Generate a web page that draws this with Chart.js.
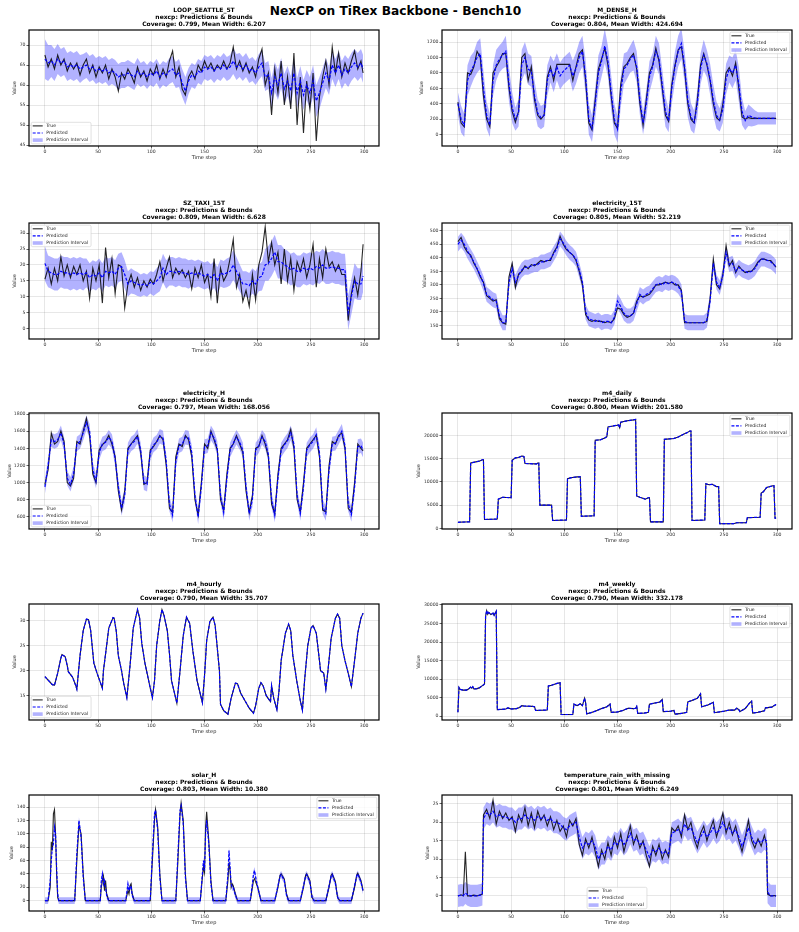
<!DOCTYPE html>
<html>
<head>
<meta charset="utf-8">
<script src="https://cdn.jsdelivr.net/npm/chart.js@4.4.1/dist/chart.umd.min.js"></script>
<style>
  body { margin: 0; background: #fff; width: 799px; height: 932px; position: relative; overflow: hidden; font-family: "DejaVu Sans", sans-serif; }
  .sup { position: absolute; left: 0; width: 791px; top: 4px; line-height: 15px; text-align: center; font-weight: bold; font-size: 12.2px; color: #000; }
  canvas { position: absolute; }
</style>
</head>
<body>
<div class="sup">NexCP on TiRex Backbone - Bench10</div>
<script>
// ---- time steps -------------------------------------------------------
const GRID3 = [0,3,6,9,12,15,18,21,24,27,30,33,36,39,42,45,48,51,54,57,
  60,63,66,69,72,75,78,81,84,87,90,93,96,99,102,105,108,111,114,117,
  120,123,126,129,132,135,138,141,144,147,150,153,156,159,162,165,168,171,174,177,
  180,183,186,189,192,195,198,201,204,207,210,213,216,219,222,225,228,231,234,237,
  240,243,246,249,252,255,258,261,264,267,270,273,276,279,282,285,288,291,294,297,299];
const xTicks = [0, 50, 100, 150, 200, 250, 300];

// ---- LOOP_SEATTLE_5T ----------------------------------------------------
const loopTrue = [
  67.5,64.5,66.5,64,67.5,65,66.5,63.5,65.5,64,
  65.5,62.5,65,66.5,63,65,62,64.5,63,65,
  61.5,64,62,58.5,63,61.5,64,62.5,60.5,64.5,
  62,63.5,61,64,62.5,65,61.5,64,62,66,
  68.5,62,64.5,59,57.5,62,63.5,61.5,65,63.5,
  66,64,65.5,63.5,65,64,66,64,65.5,69.5,
  64,66,63.5,65.5,63,64.5,62,66.5,69,60,
  63,52.5,64,58,66,55,62,54,68,50,
  62,48,61,54,63,46,57,62,66,60,
  69.5,63,68,62,65.5,63,66,68.5,64,66,
  63];
const loopPred = [
  66.5,65.5,66,65,66.5,65.5,66,64.5,65,64.5,
  65,64,64.5,65,64,64.5,63.5,64,63.5,64,
  63,63.5,63,62,62.5,62.5,63,62.5,62,63.5,
  62.5,63,62,63,62.5,63.5,62,63,62.5,63.5,
  64,62.5,63,60.5,58.5,61,62.5,62,63.5,63,
  64.5,64,64.5,63.5,64.5,64,65,64,64.5,66,
  64.5,65,64,65,63.5,64,63,64.5,65.5,62,
  62.5,58,62,60,63,59,61,58.5,63,58,
  61,57.5,60,58,61,56,58,60.5,63,61,
  65,63,65,62.5,64,63,64.5,65.5,64.5,65.5,
  64];
const loopWidth = [
  10,9,8,8,7.5,7,7,7,7,7,
  7,7,6.5,6.5,6.5,6.5,6.5,6.5,6.5,6.5,
  6.5,6.5,6.5,6.5,6.5,6.5,6.5,6.5,6.5,6.5,
  6,6,6,6,6,6,6,6,6,6.5,
  6.5,6.5,7,7,7,6.5,6,6,6,6,
  6,6,6,6,6,6,6,6,6,6.5,
  6.5,6,6,6,6,6,6,6.5,6.5,7,
  7,7.5,7.5,7.5,7.5,7.5,7.5,7.5,7.5,7.5,
  7.5,7.5,7.5,8,8,8,8,7.5,7.5,7,
  7,7,7,7,7,7,7,7,7,7,
  7];
const loopTicks = [45, 50, 55, 60, 65, 70];

// ---- M_DENSE_H ----------------------------------------------------------
const denseTrue = [
  420,150,100,800,780,880,1080,1000,500,200,
  100,800,880,950,1050,1050,600,300,160,300,
  1000,1050,700,880,450,250,200,250,750,880,
  700,910,910,910,910,910,700,880,1050,1100,
  700,150,60,450,850,980,1120,900,500,150,
  80,650,880,920,1000,1050,850,400,120,450,
  800,900,1120,950,600,250,170,650,900,1100,
  1140,850,400,200,150,450,900,1050,900,700,
  400,220,180,400,800,870,760,930,600,230,
  200,220,210,210,210,210,210,210,210,210,
  210];
const densePred = [
  400,200,120,700,820,900,1000,1050,600,250,
  120,700,900,980,1030,1080,650,350,200,280,
  900,1000,850,820,500,280,220,250,700,850,
  750,880,760,820,860,900,760,860,1000,1080,
  750,200,80,400,800,950,1150,950,550,200,
  70,550,850,900,980,1030,880,450,150,400,
  750,880,1080,980,650,300,180,600,880,1080,
  1180,880,450,230,160,400,850,1030,920,720,
  450,250,190,330,720,850,800,900,650,300,
  180,250,230,215,210,210,210,210,210,210,
  210];
const denseWidth = [
  300,350,300,400,400,350,400,400,450,350,
  300,400,400,350,350,400,450,400,300,350,
  400,400,400,400,400,350,300,300,400,350,
  400,350,350,350,350,350,400,400,400,400,
  450,400,350,400,450,400,450,400,450,400,
  350,400,400,350,350,400,400,400,300,350,
  400,350,400,400,400,400,300,400,400,400,
  400,400,450,350,300,350,400,400,350,400,
  400,350,300,350,400,350,400,400,450,350,
  250,280,250,200,160,160,160,160,160,160,
  160];
const denseTicks = [0, 200, 400, 600, 800, 1000, 1200];

// ---- SZ_TAXI_15T --------------------------------------------------------
const taxiTrue = [
  15.5,19,14,19,15,22.5,16.5,20,16,19.5,
  17,20,15,18,9.5,19,15,20,8,25.5,
  16,22,11,20,19.5,6.5,14,17,13,16,
  12,15,13,15.5,14,17,21,15,19,22.5,
  16,19,17,18.5,16,18,12.5,19,16,20,
  14.5,17,10,22,8,19,15,17,22,28,
  13,17,8.5,12,7,17,9,20,24,32,
  21,27,20,24,14,25,15,22,12,21,
  18,22,16,20,26.5,13,22,16,25,19.5,
  21,18,20,17,17,2.5,11,16,10.5,18,
  26.5];
const taxiPred = [
  20.5,18,17.5,17,17,18,17.5,17.5,17,17.5,
  17,17.5,17,17.5,16,17,16.5,17.5,16,18,
  17.5,18,17,19,19.5,17,14,15,14.5,14,
  13.5,14,13.5,14.5,14,15,16,19,17,18,
  18,17.5,18,17.5,17.5,17,17.5,17,17.5,17,
  16.5,17,16,17,15,17.5,17,17.5,18,20,
  18,16,14,14,13.5,15,14,16,16.5,20,
  20.5,22,24,21,21,20,19.5,18.5,19,18,
  18,19,18.5,19,18.5,19.5,19,20,19,19,
  19.5,19,19,18.5,18.5,5,10,15,14,14,
  16.5];
const taxiWidth = [
  11,10,10,10,10,10,10,10,10,10,
  10,10,10,9,9,9,9,9,9,9,
  9,9,9,9,9,9,8,8,7.5,7.5,
  7,7,7,7,7.5,8,8.5,9,9,9,
  9,9,9,9,9,9,8.5,8.5,8.5,8.5,
  8.5,8.5,8.5,8.5,8.5,8.5,8.5,9,9,9.5,
  9,8.5,8,8,8,8,8,8.5,9,10,
  11,11,11,10.5,10.5,10,10,10,10,10,
  10,10,10,10,10,10,10,10,10,10,
  10,10,10,10,10,11,11,11,10,10,
  10];
const taxiTicks = [0, 5, 10, 15, 20, 25, 30];

// ---- electricity_15T ----------------------------------------------------
const e15True = [
  460,475,440,420,410,380,360,330,310,260,
  250,240,245,175,160,155,330,380,290,340,
  350,370,360,375,370,380,390,385,390,390,
  420,440,480,450,430,420,410,390,350,300,
  190,170,165,170,165,165,160,165,160,175,
  215,210,190,180,185,195,240,260,255,260,
  265,280,300,300,305,310,305,310,300,300,
  280,160,160,160,160,160,160,160,165,250,
  395,300,285,340,445,370,390,345,370,355,
  345,350,350,365,385,395,395,390,390,375,
  365];
const e15Pred = [
  450,465,450,425,405,385,360,335,305,265,
  255,245,240,185,160,160,310,360,310,335,
  355,365,365,370,375,375,385,385,390,395,
  415,435,470,455,435,420,410,395,355,310,
  200,175,170,165,170,160,165,165,160,180,
  240,220,195,185,185,195,230,265,255,265,
  270,285,300,305,300,310,305,310,305,295,
  275,165,160,160,160,160,160,160,170,240,
  380,310,290,335,420,375,380,350,365,355,
  350,345,350,360,380,395,395,390,385,375,
  365];
const e15Width = 55;
const e15Ticks = [150, 200, 250, 300, 350, 400, 450, 500];

// ---- electricity_H ------------------------------------------------------
const ehTrue = [
  980,1150,1580,1450,1480,1600,1480,1000,960,1050,
  1480,1450,1600,1750,1550,1100,1000,1380,1440,1480,
  1550,1450,1300,900,680,900,1400,1450,1500,1550,
  1350,980,1000,1380,1420,1480,1550,1500,1200,700,
  650,1300,1450,1420,1550,1500,1300,800,620,1000,
  1450,1400,1600,1500,1380,800,680,1100,1400,1450,
  1550,1450,1350,900,650,850,1400,1420,1550,1450,
  1300,750,640,1100,1400,1450,1500,1620,1400,800,
  660,1000,1400,1450,1500,1550,1300,680,660,1200,
  1480,1450,1550,1580,1400,700,650,1000,1450,1400,
  1370];
const ehPred = [
  950,1200,1500,1480,1500,1580,1450,1050,980,1100,
  1450,1480,1580,1700,1600,1150,1020,1350,1450,1470,
  1530,1480,1280,950,700,850,1380,1450,1480,1540,
  1380,1000,980,1350,1440,1470,1540,1520,1250,750,
  620,1250,1430,1450,1530,1520,1350,850,600,950,
  1420,1430,1580,1520,1400,850,650,1050,1380,1460,
  1530,1470,1380,950,640,800,1380,1430,1530,1480,
  1330,800,620,1050,1380,1440,1490,1580,1450,850,
  640,950,1380,1440,1480,1560,1350,720,640,1150,
  1450,1460,1530,1600,1430,750,630,950,1420,1430,
  1380];
const ehWidth = 170;
const ehTicks = [600, 800, 1000, 1200, 1400, 1600, 1800];

// ---- m4_daily -----------------------------------------------------------
const dailySteps = [
  0,11,12,20,23,24,25,37,38,42,
  50,51,54,57,60,62,63,74,75,76,
  77,88,89,102,103,106,112,115,116,128,
  129,134,138,140,141,146,151,152,153,159,
  165,167,168,171,176,179,180,181,193,194,
  203,207,212,215,218,219,220,232,233,236,
  239,243,245,246,259,262,271,272,284,285,
  287,290,296,297,298,299];
const dailyTrue = [
  1300,1400,14100,14500,14800,14800,1900,2000,6300,6700,
  6600,14700,15200,15300,15600,15500,14000,13900,14100,14100,
  5000,5000,1700,1800,10700,10900,11100,11100,2600,2700,
  19000,19100,19500,19800,21900,22100,22300,21700,22900,23200,
  23400,23500,7000,6700,6300,6600,6600,1400,1400,19200,
  19400,19700,20300,20600,21000,21000,1700,1800,9600,9400,
  9500,9000,9000,1000,1000,1200,1200,2300,2400,7600,
  7900,8800,9200,9200,2200,2200];
const dailyPred = dailyTrue; // the dashed forecast sits on the true line here
const dailyWidth = 201.58;
const dailyTicks = [0, 5000, 10000, 15000, 20000];

// ---- m4_hourly ----------------------------------------------------------
const hourlySteps = [
  0,7,9,12,15,16,19,21,22,26,
  29,30,33,36,39,41,43,46,49,54,
  55,58,60,64,65,67,69,72,74,77,
  80,83,87,89,91,94,99,101,103,105,
  108,110,112,115,117,119,124,127,130,133,
  136,139,143,148,150,152,155,158,160,164,
  165,168,172,175,179,181,184,188,192,196,
  198,201,203,205,208,212,213,215,218,220,
  222,226,229,231,233,237,240,242,244,247,
  250,252,255,258,259,262,264,266,269,273,
  275,277,279,282,285,288,291,294,297,299];
const hourlyTrue = [
  18.8,17.2,17.1,19.5,22.5,23.2,22.8,21,19.8,18.7,
  17,16.3,23,28,30.3,30.2,28,21.5,19.5,16.5,
  20,25,28.5,30.6,30.5,28,23,20,17.5,14.6,
  21,28.5,32.2,30.5,25.5,21.5,16.5,14.6,18,25,
  30,32.2,31,28,23.5,18,13.5,20,27,30.7,
  29.5,24,18,13.6,19,26,29.8,30.7,29,20,
  13.3,12,11.3,14.5,17.5,17.4,15.5,14,12.5,11.5,
  13,16.5,17.6,17,15,13.8,17,14.5,12.2,16,
  22,27.5,29.3,28,23,17.5,14,12.1,18,25,
  28.5,29,27.5,22,20,19.5,16.3,20,26.5,30.5,
  31.3,30.5,25,22,19.5,16.8,22,27.5,30.5,31.5];
const hourlyPred = hourlyTrue;
const hourlyWidth = 0.3;
const hourlyTicks = [15, 20, 25, 30];

// ---- m4_weekly ----------------------------------------------------------
const weeklySteps = [
  0,1,2,5,8,10,12,13,14,15,
  18,20,22,24,25,26,27,28,29,31,
  33,34,36,37,45,47,50,55,58,60,
  62,70,72,73,84,85,88,90,93,96,
  97,108,109,112,115,117,119,120,121,125,
  130,135,140,143,144,150,155,160,165,167,
  168,169,175,179,180,185,190,192,193,200,
  203,204,210,215,216,220,225,228,229,235,
  240,241,250,255,260,262,264,265,270,274,
  276,277,282,288,289,295,297,299];
const weeklyTrue = [
  1000,7700,7200,7000,7000,7300,7800,7500,7900,7300,
  7400,7600,8000,8400,8700,26900,28500,27500,28000,27400,
  27800,27200,28300,1700,1900,2200,1900,2000,2300,2800,
  2700,2600,2500,1500,1600,8100,8300,8500,8800,9000,
  400,400,3200,2800,3300,2800,4800,3600,600,900,
  1400,2000,2500,3200,1000,1100,1500,2100,2000,2100,
  2600,700,800,1000,3200,3500,3800,4500,1200,1300,
  1500,500,700,1000,3800,4200,4800,6000,2500,3000,
  3700,900,1300,1600,1600,2100,1700,1200,2000,3500,
  4000,800,1000,1400,2200,2400,2800,3100];
const weeklyPred = weeklyTrue;
const weeklyWidth = 332.178;
const weeklyTicks = [0, 5000, 10000, 15000, 20000, 25000, 30000];

// ---- solar_H ------------------------------------------------------------
const solarSteps = [
  0,3,5,6,7,8,9,10,11,12,13,
  28,30,32,34,36,38,
  52,53,54,55,56,57,58,60,
  76,78,79,80,81,82,84,
  99,101,103,104,106,108,110,
  123,125,127,128,130,132,134,
  146,148,149,150,151,152,154,156,158,
  170,172,173,174,175,176,177,179,181,
  193,195,196,197,198,200,203,
  216,219,221,222,225,227,229,
  240,243,245,246,249,251,253,
  264,267,269,270,273,275,277,
  288,291,293,294,297,299];
const solarTrue = [
  0,0,20,88,75,130,136,100,40,5,0,
  0,60,113,100,40,0,
  0,20,30,37,15,30,10,0,
  0,15,10,22,25,10,0,
  0,60,120,136,110,40,0,
  0,60,130,146,120,40,0,
  0,35,50,42,110,133,90,30,0,
  0,30,57,45,20,25,22,10,0,
  0,20,30,33,28,20,0,
  0,20,38,40,32,10,0,
  0,20,38,40,30,5,0,
  0,20,38,40,28,5,0,
  0,20,38,41,30,15];
const solarPred = [
  0,0,30,60,80,85,110,100,50,10,0,
  0,70,120,95,35,0,
  0,30,40,25,30,20,8,0,
  0,25,15,20,22,8,0,
  0,70,130,135,105,35,0,
  0,70,135,142,115,35,0,
  0,40,60,45,100,120,85,25,0,
  0,40,75,50,25,20,20,8,0,
  0,25,40,45,35,20,0,
  0,22,37,39,30,8,0,
  0,22,37,39,28,5,0,
  0,22,37,39,26,5,0,
  0,22,37,40,28,14];
const solarWidth = 10.4;
const solarTicks = [0, 20, 40, 60, 80, 100, 120, 140];

// ---- temperature_rain_with_missing --------------------------------------
const tempSteps = [
  0,3,5,7,9,12,15,18,21,23,
  24,27,30,33,36,39,42,45,48,51,
  54,57,60,63,66,69,72,75,78,81,
  84,87,90,93,96,99,102,105,108,111,
  114,117,120,123,126,129,132,135,138,141,
  144,147,150,153,156,159,162,165,168,171,
  174,177,180,183,186,189,192,195,198,201,
  204,207,210,213,216,219,222,225,228,231,
  234,237,240,243,246,249,252,255,258,261,
  264,267,270,273,276,279,282,285,288,290,
  291,294,297,299];
const tempTrue = [
  0,0.3,0,12,0,0,0.2,0,0.3,0.5,
  22,23.5,21,26,19.5,23,21,22.5,20.5,21.5,
  17.5,22,20,24,19,22.5,18.5,23,20.5,22,
  19,21.5,18,20.5,17.5,19,16,20.5,19,21,
  14,11,15.5,13,16,12,8,12.5,10,14.5,
  11,16,13,17,12,15.5,19,14,16.5,13,
  15,11,8,13.5,11,14,10,12.5,10.5,18.5,
  17.5,19,16,22,18,20,15.5,13,17,19,
  15,18,20.5,16,19,22.5,17,20,16.5,19,
  15,12,16,20.5,15,13,15.5,13.5,16.5,14,
  0.5,0,0.1,0];
const tempPred = [
  0,0.2,0.1,0.8,0.3,0,0,0,0.2,0.4,
  21,22.5,22,23,21.5,22,21.5,21.5,21,21,
  20,21,21,22,21,21.5,20.5,21.5,21,21.5,
  20.5,21,20,20,19.5,18.5,18,19,19.5,20,
  16,13,14.5,14,15,13.5,10,11.5,11.5,13.5,
  12.5,14.5,14,15.5,14,15,17,15,15.5,14,
  14.5,12.5,10.5,12.5,12,13,11.5,12,11.5,17,
  17.5,18,17,19.5,18,18.5,16.5,14.5,16,17.5,
  16,17,18.5,17,18,20,18,18.5,17,18,
  16,13.5,15.5,18.5,16,14,15,14.5,15.5,15,
  1,0,0,0];
const tempWidth = 6;
const tempTicks = [0, 5, 10, 15, 20, 25];

// ---- panels (row-major, two columns) ------------------------------------
const panels = [
  { name: 'LOOP_SEATTLE_5T', cov: '0.799', mw: '6.207', xs: GRID3, tru: loopTrue, pred: loopPred, w: loopWidth, yMin: 44.75, yMax: 73.75, yTicks: loopTicks, legend: 'll', valueX: 15 },
  { name: 'M_DENSE_H', cov: '0.804', mw: '424.694', xs: GRID3, tru: denseTrue, pred: densePred, w: denseWidth, yMin: -148, yMax: 1356, yTicks: denseTicks, legend: 'ur', valueX: 421.7 },
  { name: 'SZ_TAXI_15T', cov: '0.809', mw: '6.628', xs: GRID3, tru: taxiTrue, pred: taxiPred, w: taxiWidth, yMin: -3.3, yMax: 33.2, yTicks: taxiTicks, legend: 'ul', valueX: 15 },
  { name: 'electricity_15T', cov: '0.805', mw: '52.219', xs: GRID3, tru: e15True, pred: e15Pred, w: e15Width, yMin: 100, yMax: 528.6, yTicks: e15Ticks, legend: 'ur', valueX: 424.3 },
  { name: 'electricity_H', cov: '0.797', mw: '168.056', xs: GRID3, tru: ehTrue, pred: ehPred, w: ehWidth, yMin: 459, yMax: 1812, yTicks: ehTicks, legend: 'll', valueX: 10 },
  { name: 'm4_daily', cov: '0.800', mw: '201.580', xs: dailySteps, tru: dailyTrue, pred: dailyPred, w: dailyWidth, yMin: -145, yMax: 24890, yTicks: dailyTicks, legend: 'ur', valueX: 419 },
  { name: 'm4_hourly', cov: '0.790', mw: '35.707', xs: hourlySteps, tru: hourlyTrue, pred: hourlyPred, w: hourlyWidth, yMin: 10.13, yMax: 33.33, yTicks: hourlyTicks, legend: 'll', valueX: 15 },
  { name: 'm4_weekly', cov: '0.790', mw: '332.178', xs: weeklySteps, tru: weeklyTrue, pred: weeklyPred, w: weeklyWidth, yMin: -1080, yMax: 30270, yTicks: weeklyTicks, legend: 'ur', valueX: 419 },
  { name: 'solar_H', cov: '0.803', mw: '10.380', xs: solarSteps, tru: solarTrue, pred: solarPred, w: solarWidth, yMin: -15.5, yMax: 158, yTicks: solarTicks, legend: 'ur', valueX: 11.7 },
  { name: 'temperature_rain_with_missing', cov: '0.801', mw: '6.249', xs: tempSteps, tru: tempTrue, pred: tempPred, w: tempWidth, yMin: -4.1, yMax: 27.4, yTicks: tempTicks, legend: 'lc', valueX: 427.7 }
];

// ---- layout -------------------------------------------------------------
const PLOT_W = 350, PLOT_H = 116, PAD_TOP = 24, PAD_RIGHT = 6, X_AXIS_H = 15;
const COL_LEFT = [29, 442];
const ROW_TOP = [30, 223, 413, 604, 795];
const BAND = 'rgba(0,0,255,0.3)';
const FONT = '"DejaVu Sans", sans-serif';

Chart.defaults.font.family = FONT;

// black box round the axes
const framePlugin = {
  id: 'frame',
  afterDatasetsDraw(chart) {
    const { ctx, chartArea: a } = chart;
    ctx.save();
    ctx.strokeStyle = '#000';
    ctx.lineWidth = 1.2;
    ctx.strokeRect(a.left, a.top, a.right - a.left, a.bottom - a.top);
    ctx.restore();
  }
};

// three bold title lines above each axes
const titlePlugin = {
  id: 'panelTitle',
  afterDraw(chart, args, opts) {
    const { ctx, chartArea: a } = chart;
    ctx.save();
    ctx.font = 'bold 6px ' + FONT;
    ctx.fillStyle = '#000';
    ctx.textAlign = 'center';
    ctx.textBaseline = 'middle';
    const cx = (a.left + a.right) / 2;
    const n = opts.lines.length;
    opts.lines.forEach((t, i) => ctx.fillText(t, cx, a.top - 5.5 - 6.8 * (n - 1 - i)));
    ctx.restore();
  }
};

// matplotlib-like legend box inside the axes
const boxLegend = {
  id: 'boxLegend',
  afterDraw(chart, args, opts) {
    const { ctx, chartArea: a } = chart;
    const labels = ['True', 'Predicted', 'Prediction Interval'];
    ctx.save();
    ctx.font = '4.6px ' + FONT;
    const tw = Math.max(...labels.map(t => ctx.measureText(t).width));
    const bw = 15 + tw + 3, bh = 21.5, m = 2.2;
    let x, y;
    if (opts.pos === 'ur') { x = a.right - m - bw; y = a.top + m; }
    else if (opts.pos === 'ul') { x = a.left + m; y = a.top + m; }
    else if (opts.pos === 'll') { x = a.left + m; y = a.bottom - m - bh; }
    else { x = (a.left + a.right) / 2 - bw / 2; y = a.bottom - m - bh; }

    ctx.fillStyle = 'rgba(255,255,255,0.8)';
    ctx.strokeStyle = '#cccccc';
    ctx.lineWidth = 0.6;
    ctx.beginPath();
    ctx.roundRect(x, y, bw, bh, 1.5);
    ctx.fill();
    ctx.stroke();

    const rowY = i => y + 3.6 + i * 7.1;
    // True
    ctx.strokeStyle = 'rgba(0,0,0,0.85)';
    ctx.lineWidth = 1.1;
    ctx.beginPath(); ctx.moveTo(x + 1.5, rowY(0)); ctx.lineTo(x + 11.5, rowY(0)); ctx.stroke();
    // Predicted
    ctx.strokeStyle = '#0000ff';
    ctx.setLineDash([3, 1.5]);
    ctx.beginPath(); ctx.moveTo(x + 1.5, rowY(1)); ctx.lineTo(x + 11.5, rowY(1)); ctx.stroke();
    ctx.setLineDash([]);
    // Interval
    ctx.fillStyle = BAND;
    ctx.fillRect(x + 1.5, rowY(2) - 1.8, 10, 3.6);

    ctx.fillStyle = '#222';
    ctx.textAlign = 'left';
    ctx.textBaseline = 'middle';
    labels.forEach((t, i) => ctx.fillText(t, x + 15, rowY(i)));
    ctx.restore();
  }
};

function bandW(w, i) { return Array.isArray(w) ? w[i] : w; }

function drawPanel(p, k) {
  const col = k % 2, row = Math.floor(k / 2);
  const plotLeft = COL_LEFT[col], plotTop = ROW_TOP[row];
  const yAxisW = Math.round(plotLeft - p.valueX + 2.7);

  const canvas = document.createElement('canvas');
  canvas.width = yAxisW + PLOT_W + PAD_RIGHT;
  canvas.height = PAD_TOP + PLOT_H + X_AXIS_H;
  canvas.style.left = (plotLeft - yAxisW) + 'px';
  canvas.style.top = (plotTop - PAD_TOP) + 'px';
  document.body.appendChild(canvas);

  const trueData = p.xs.map((x, i) => ({ x, y: p.tru[i] }));
  const predData = p.xs.map((x, i) => ({ x, y: p.pred[i] }));
  const upper = p.xs.map((x, i) => ({ x, y: p.pred[i] + bandW(p.w, i) / 2 }));
  const lower = p.xs.map((x, i) => ({ x, y: p.pred[i] - bandW(p.w, i) / 2 }));

  const tickFont = { size: 4.6, family: FONT };
  const titleFont = { size: 5, family: FONT };
  const grid = { color: 'rgba(0,0,0,0.12)', lineWidth: 0.8, tickColor: '#222', tickLength: 2.5, tickWidth: 0.7 };

  new Chart(canvas, {
    type: 'line',
    data: {
      datasets: [
        { label: 'Predicted', data: predData, borderColor: '#0000ff', borderWidth: 1.2, borderDash: [3, 1.5], pointRadius: 0, fill: false },
        { label: 'True', data: trueData, borderColor: 'rgba(0,0,0,0.85)', borderWidth: 1.1, pointRadius: 0, fill: false },
        { label: 'upper', data: upper, borderWidth: 0, pointRadius: 0, backgroundColor: BAND, fill: '+1' },
        { label: 'lower', data: lower, borderWidth: 0, pointRadius: 0, fill: false }
      ]
    },
    options: {
      responsive: false,
      animation: false,
      devicePixelRatio: 1,
      layout: { padding: { top: PAD_TOP, right: PAD_RIGHT, left: 0, bottom: 0 } },
      elements: { line: { tension: 0 } },
      plugins: {
        legend: { display: false },
        tooltip: { enabled: false },
        panelTitle: { lines: [p.name, 'nexcp: Predictions & Bounds', 'Coverage: ' + p.cov + ', Mean Width: ' + p.mw] },
        boxLegend: { pos: p.legend }
      },
      scales: {
        x: {
          type: 'linear', min: -14.95, max: 313.95,
          afterBuildTicks: s => { s.ticks = xTicks.map(v => ({ value: v })); },
          afterFit: s => { s.height = X_AXIS_H; },
          ticks: { font: tickFont, color: '#333', padding: 0.3, autoSkip: false, maxRotation: 0, callback: v => String(v) },
          grid: grid,
          border: { display: false },
          title: { display: true, text: 'Time step', font: titleFont, color: '#222', padding: 0 }
        },
        y: {
          type: 'linear', min: p.yMin, max: p.yMax,
          afterBuildTicks: s => { s.ticks = p.yTicks.map(v => ({ value: v })); },
          afterFit: s => { s.width = yAxisW; },
          ticks: { font: tickFont, color: '#333', padding: 1, autoSkip: false, callback: v => String(v) },
          grid: grid,
          border: { display: false },
          title: { display: true, text: 'Value', font: titleFont, color: '#222', padding: 0 }
        }
      }
    },
    plugins: [framePlugin, titlePlugin, boxLegend]
  });
}

panels.forEach(drawPanel);
</script>
</body>
</html>
